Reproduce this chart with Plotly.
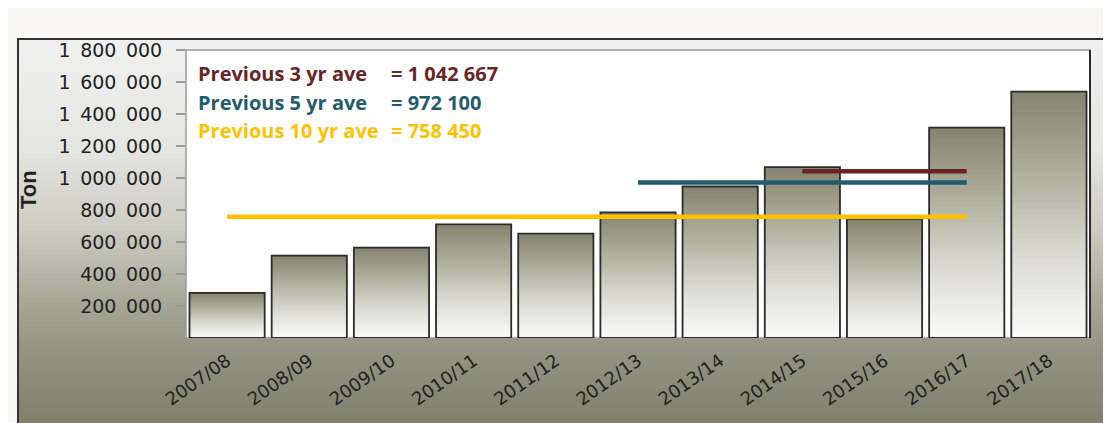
import plotly.graph_objects as go

# ---- data ----
seasons = ["2007/08", "2008/09", "2009/10", "2010/11", "2011/12", "2012/13",
           "2013/14", "2014/15", "2015/16", "2016/17", "2017/18"]
tons = [282000, 515000, 565000, 710000, 652000, 785000,
        947000, 1068000, 745000, 1315000, 1540000]
ave3 = 1042667
ave5 = 972100
ave10 = 758450
ytick_vals = [200000, 400000, 600000, 800000, 1000000, 1200000, 1400000, 1600000, 1800000]
ytick_text = ["200\u2002000", "400\u2002000", "600\u2002000", "800\u2002000", "1\u2002000\u2002000",
              "1\u2002200\u2002000", "1\u2002400\u2002000", "1\u2002600\u2002000", "1\u2002800\u2002000"]
legend_labels = ["Previous 3 yr ave", "Previous 5 yr ave", "Previous 10 yr ave"]
legend_values = ["= 1 042 667", "= 972 100", "= 758 450"]

OFF = 8  # page body margin
W, H = 1111 - OFF, 423 - OFF
ML, MR, MT, MB = 186 - OFF, 21, 50 - OFF, 85
PW, PH = W - ML - MR, H - MT - MB


def px_x(px):
    return (px - OFF - ML) / PW


def px_y(py):
    return (H + OFF - MB - py) / PH


def lerp_stops(stops, t):
    for i in range(len(stops) - 1):
        t0, c0 = stops[i]
        t1, c1 = stops[i + 1]
        if t <= t1:
            f = (t - t0) / (t1 - t0) if t1 > t0 else 0
            return tuple(int(round(c0[j] + (c1[j] - c0[j]) * f)) for j in range(3))
    return stops[-1][1]


bar_stops = [(0.0, (132, 132, 110)), (0.2, (158, 158, 138)), (0.45, (190, 190, 176)),
             (0.7, (222, 222, 215)), (1.0, (250, 250, 249))]
bg_stops = [(39, (240, 240, 240)), (150, (229, 229, 225)), (230, (203, 203, 193)),
            (300, (168, 168, 153)), (350, (148, 148, 131)), (423, (128, 128, 110))]

fig = go.Figure()

N = 40
for k in range(N):
    t = (k + 0.5) / N
    c = lerp_stops(bar_stops, t)
    fig.add_trace(go.Bar(
        x=seasons, y=[v * (1 - k / N) for v in tons],
        marker=dict(color="rgb(%d,%d,%d)" % c, line=dict(width=0)),
        width=0.915, showlegend=False, hoverinfo="skip"))
fig.add_trace(go.Bar(
    x=seasons, y=tons,
    marker=dict(color="rgba(0,0,0,0)", line=dict(color="#2b2b2b", width=1.8)),
    width=0.915, showlegend=False))

line_specs = [(ave10, 0, "#FFC000"), (ave5, 5, "#225B6C"), (ave3, 7, "#6B2424")]
for val, start, col in line_specs:
    fig.add_trace(go.Scatter(
        x=[seasons[start], seasons[9]], y=[val, val], mode="lines",
        line=dict(color=col, width=4.5), showlegend=False))

shapes = []
# outer frame gradient
step = 6
py = 39
while py < 425:
    c = lerp_stops(bg_stops, py + step / 2)
    shapes.append(dict(type="rect", xref="paper", yref="paper",
                       x0=px_x(18), x1=px_x(1115), y0=px_y(py + step + 0.5), y1=px_y(py),
                       fillcolor="rgb(%d,%d,%d)" % c, line=dict(width=0), layer="below"))
    py += step
# frame border
shapes.append(dict(type="rect", xref="paper", yref="paper",
                   x0=px_x(18), x1=px_x(1120), y0=px_y(430), y1=px_y(39),
                   fillcolor="rgba(0,0,0,0)", line=dict(color="#333333", width=2), layer="below"))
# plot area
shapes.append(dict(type="rect", xref="x domain", yref="y domain", x0=0, x1=1, y0=0, y1=1,
                   fillcolor="white", line=dict(color="#9a9a9a", width=1.5), layer="below"))
shapes.append(dict(type="line", xref="x domain", yref="y domain", x0=1, x1=1, y0=0, y1=1,
                   line=dict(color="#2b2b2b", width=2), layer="above"))

annotations = []
leg_cols = ["#6B2424", "#225B6C", "#FFC000"]
leg_y = [73, 102, 130]
for lab, val, col, yy in zip(legend_labels, legend_values, leg_cols, leg_y):
    annotations.append(dict(xref="paper", yref="paper", x=px_x(196), y=px_y(yy),
                            xanchor="left", yanchor="middle", showarrow=False,
                            text="<b>%s</b>" % lab,
                            font=dict(family="Open Sans", size=20, color=col)))
    annotations.append(dict(xref="paper", yref="paper", x=px_x(389), y=px_y(yy),
                            xanchor="left", yanchor="middle", showarrow=False,
                            text="<b>%s</b>" % val,
                            font=dict(family="Open Sans", size=20, color=col)))
annotations.append(dict(xref="paper", yref="paper", x=px_x(28), y=px_y(190),
                        xanchor="center", yanchor="middle", showarrow=False,
                        text="<b>Ton</b>", textangle=-90,
                        font=dict(family="Liberation Sans", size=22, color="#222222")))

fig.update_layout(
    width=W, height=H,
    margin=dict(l=ML, r=MR, t=MT, b=MB),
    paper_bgcolor="#f8f6f3",
    plot_bgcolor="rgba(0,0,0,0)",
    barmode="overlay",
    bargap=0.085,
    shapes=shapes,
    annotations=annotations,
    showlegend=False,
)
fig.update_xaxes(
    type="category", showgrid=False, showline=False, ticks="", tickangle=-35,
    tickfont=dict(family="DejaVu Sans", size=18, color="#222222"),
    ticklabelstandoff=8,
)
fig.update_yaxes(
    range=[0, 1800000], tickvals=ytick_vals, ticktext=ytick_text,
    showgrid=False, showline=False, zeroline=False,
    ticks="outside", ticklen=9, tickcolor="#999999", tickwidth=1.5,
    tickfont=dict(family="DejaVu Sans", size=19, color="#222222"),
    ticklabelstandoff=10,
)

fig.write_html("out.html")
